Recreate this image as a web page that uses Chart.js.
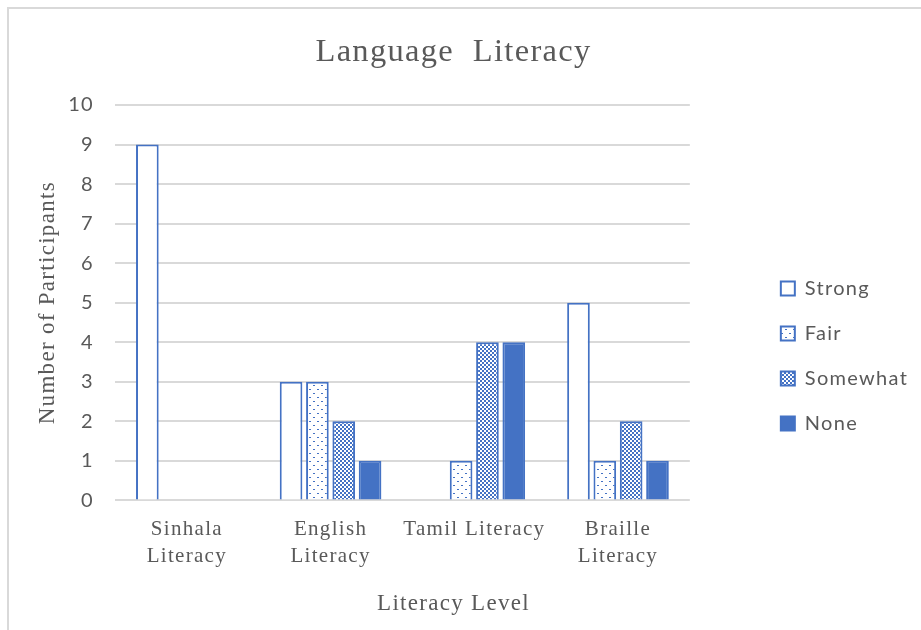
<!DOCTYPE html>
<html lang="en">
<head>
    <meta charset="UTF-8">
    <meta name="viewport" content="width=device-width, initial-scale=1.0">
    <title>Language Literacy</title>
    <script src="https://cdn.jsdelivr.net/npm/chart.js"></script>
    <style>
      html, body { margin: 0; padding: 0; background: #fff; overflow: hidden; }
      #wrap { position: relative; width: 921px; height: 630px; }
      #frame { position: absolute; left: 7px; top: 7px; width: 960px; height: 660px; border: 2px solid #d9d9d9; box-sizing: border-box; }
      #chartBox { position: absolute; left: 0; top: 0; width: 921px; height: 630px; }
    </style>
</head>
<body>
    <div id="wrap">
      <div id="frame"></div>
      <div id="chartBox"><canvas id="literacyChart"></canvas></div>
    </div>

    <script>
      // Literacy data, participants per level
      const categories = [['Sinhala', 'Literacy'], ['English', 'Literacy'], 'Tamil Literacy', ['Braille', 'Literacy']];
      const levels = ['Strong', 'Fair', 'Somewhat', 'None'];
      const strong = [9, 3, 0, 5];
      const fair = [0, 3, 1, 1];
      const somewhat = [0, 2, 4, 2];
      const none = [0, 1, 4, 1];
      const yTicks = [0, 1, 2, 3, 4, 5, 6, 7, 8, 9, 10];

      const blue = '#4472C4';
      const grey = '#595959';

      const ctx = document.getElementById('literacyChart').getContext('2d');

      // small tiles used as fill patterns for the hatched bars
      function tile(size, paint) {
        const c = document.createElement('canvas');
        c.width = size;
        c.height = size;
        const g = c.getContext('2d');
        g.fillStyle = '#ffffff';
        g.fillRect(0, 0, size, size);
        g.fillStyle = blue;
        paint(g);
        return ctx.createPattern(c, 'repeat');
      }

      const dotted = tile(8, g => {
        g.fillRect(1, 1, 2, 1);
        g.fillRect(5, 5, 2, 1);
      });

      const checker = tile(4, g => {
        g.fillRect(0, 0, 2, 2);
        g.fillRect(2, 2, 2, 2);
      });

      const seriesData = [strong, fair, somewhat, none];
      const fills = ['#ffffff', dotted, checker, blue];

      // wider character spacing for all chart text
      const spacing = {
        id: 'spacing',
        beforeDraw(chart) { chart.ctx.letterSpacing = '1.3px'; }
      };

      new Chart(ctx, {
        type: 'bar',
        data: {
          labels: categories,
          datasets: levels.map((name, i) => ({
            label: name,
            data: seriesData[i],
            backgroundColor: fills[i],
            borderColor: blue,
            borderWidth: 2,
            borderSkipped: 'start',
            categoryPercentage: 0.733,
            barPercentage: 0.86
          }))
        },
        plugins: [spacing],
        options: {
          responsive: true,
          maintainAspectRatio: false,
          animation: false,
          layout: { padding: { left: 0, right: 14, top: 0, bottom: 0 } },
          plugins: {
            title: {
              display: true,
              text: 'Language  Literacy',
              color: grey,
              font: { family: 'Liberation Serif', size: 32.5, weight: 'normal' },
              padding: { top: 32.5, bottom: 33.5 }
            },
            subtitle: {
              display: true,
              position: 'bottom',
              text: 'Literacy Level',
              color: grey,
              font: { family: 'Liberation Serif', size: 23, weight: 'normal' },
              padding: { top: 0, bottom: 12 }
            },
            legend: {
              position: 'right',
              align: 'start',
              title: {
                display: true,
                text: '',
                font: { size: 12 },
                padding: { top: 239, bottom: 0 }
              },
              labels: {
                boxWidth: 14,
                boxHeight: 14,
                padding: 25,
                color: grey,
                font: { family: 'Lato', size: 20 }
              }
            },
            tooltip: { enabled: false }
          },
          scales: {
            x: {
              grid: { display: false, drawTicks: false },
              border: { display: false },
              ticks: {
                color: grey,
                padding: 15,
                maxRotation: 0,
                autoSkip: false,
                font: { family: 'Liberation Serif', size: 21, lineHeight: 1.3 }
              },
              afterFit: (scale) => { scale.height = 90; }
            },
            y: {
              min: 0,
              max: 10,
              afterBuildTicks: (scale) => { scale.ticks = yTicks.map(v => ({ value: v })); },
              grid: { color: '#d9d9d9', lineWidth: 2, drawTicks: false },
              border: { display: false },
              ticks: {
                color: grey,
                padding: 21,
                font: { family: 'Lato', size: 20 }
              },
              title: {
                display: true,
                text: 'Number of Participants',
                color: grey,
                font: { family: 'Liberation Serif', size: 23, weight: 'normal' },
                padding: { top: 34, bottom: 0 }
              },
              afterFit: (scale) => { scale.width = 115; }
            },
            // empty right-hand axis keeps a gap before the legend
            gap: {
              position: 'right',
              display: true,
              grid: { display: false },
              border: { display: false },
              ticks: { display: false },
              afterFit: (scale) => { scale.width = 66; }
            }
          }
        }
      });
    </script>
</body>
</html>
